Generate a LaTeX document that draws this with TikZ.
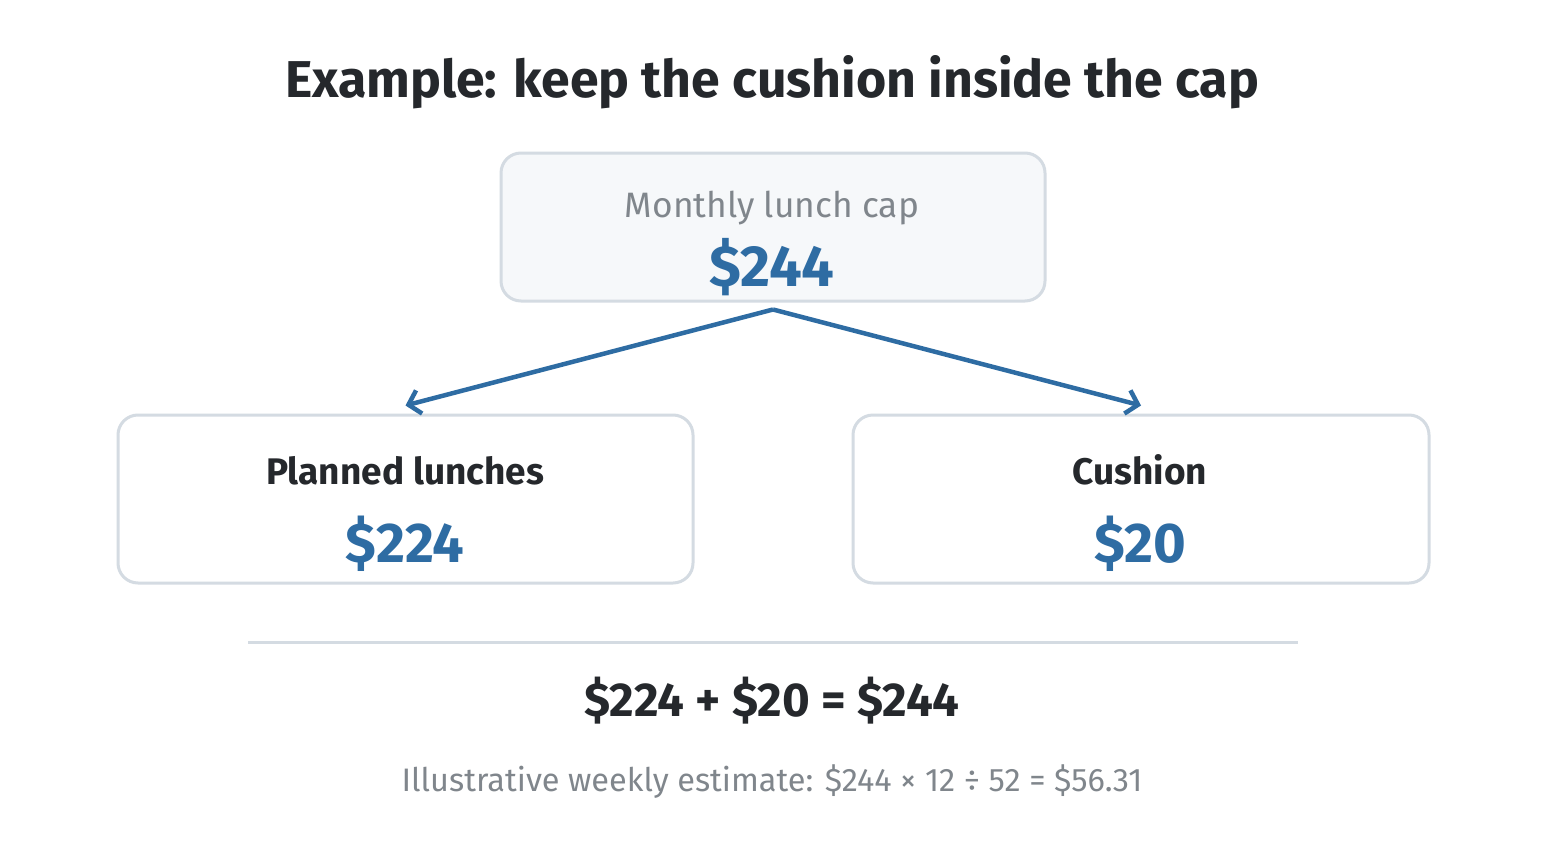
\documentclass[tikz,border=0pt]{standalone}
\usepackage{fontspec}
\setmainfont{Fira Sans}
\usetikzlibrary{arrows.meta}
\definecolor{ink}{HTML}{25282C}
\definecolor{blueval}{HTML}{2E6CA3}
\definecolor{graytext}{HTML}{80868C}
\definecolor{border}{HTML}{D4DBE2}
\definecolor{topfill}{HTML}{F6F8FA}
\tikzset{
  card/.style={draw=border, line width=3pt, rounded corners=20pt, inner sep=0pt},
  val/.style={anchor=base, text=blueval, font=\fontsize{56}{66}\selectfont\bfseries},
  lab/.style={anchor=base, text=ink, font=\fontsize{37}{44}\selectfont\bfseries},
  link/.style={draw=blueval, line width=4.5pt, -{Straight Barb[length=11pt,width=24pt,line width=4.5pt]}}
}
\begin{document}
\begin{tikzpicture}[x=1pt,y=-1pt]
\useasboundingbox[fill=white] (0,0) rectangle (1546,840);
\node[anchor=base, text=ink, font=\fontsize{51.8}{60}\selectfont\bfseries] (title) at (772,98) {Example: keep the cushion inside the cap};
% top card
\node[card, fill=topfill, minimum width=544pt, minimum height=148pt] (top) at (773,227) {};
\node[anchor=base, text=graytext, font=\fontsize{35.3}{42}\selectfont] (toplab) at (772,217) {Monthly lunch cap};
\node[val, font=\fontsize{58}{68}\selectfont\bfseries] (topval) at (772,286) {\$244};
% left card
\node[card, fill=white, minimum width=575pt, minimum height=168pt] (left) at (405.5,499) {};
\node[lab] (leftlab) at (405,484) {Planned lunches};
\node[val] (leftval) at (405,562) {\$224};
% right card
\node[card, fill=white, minimum width=576pt, minimum height=168pt] (right) at (1141,499) {};
\node[lab] (rightlab) at (1140,484) {Cushion};
\node[val] (rightval) at (1140,562) {\$20};
% arrows
\coordinate (apex) at ([yshift=-7pt]top.south);
\draw[link] (apex) -- ([yshift=8pt]left.north);
\draw[link] (apex) -- ([yshift=8pt]right.north);
% separator
\coordinate (sepL) at (248,642);
\coordinate (sepR) at (1298,642);
\draw[border, line width=3pt] (sepL) -- (sepR);
\node[anchor=base, text=ink, font=\fontsize{47.5}{56}\selectfont\bfseries] (sum) at (772,716) {\$224 + \$20 = \$244};
\node[anchor=base, text=graytext, font=\fontsize{32.5}{40}\selectfont] (note) at (772,791) {Illustrative weekly estimate: \$244 × 12 ÷ 52 = \$56.31};
\end{tikzpicture}
\end{document}
